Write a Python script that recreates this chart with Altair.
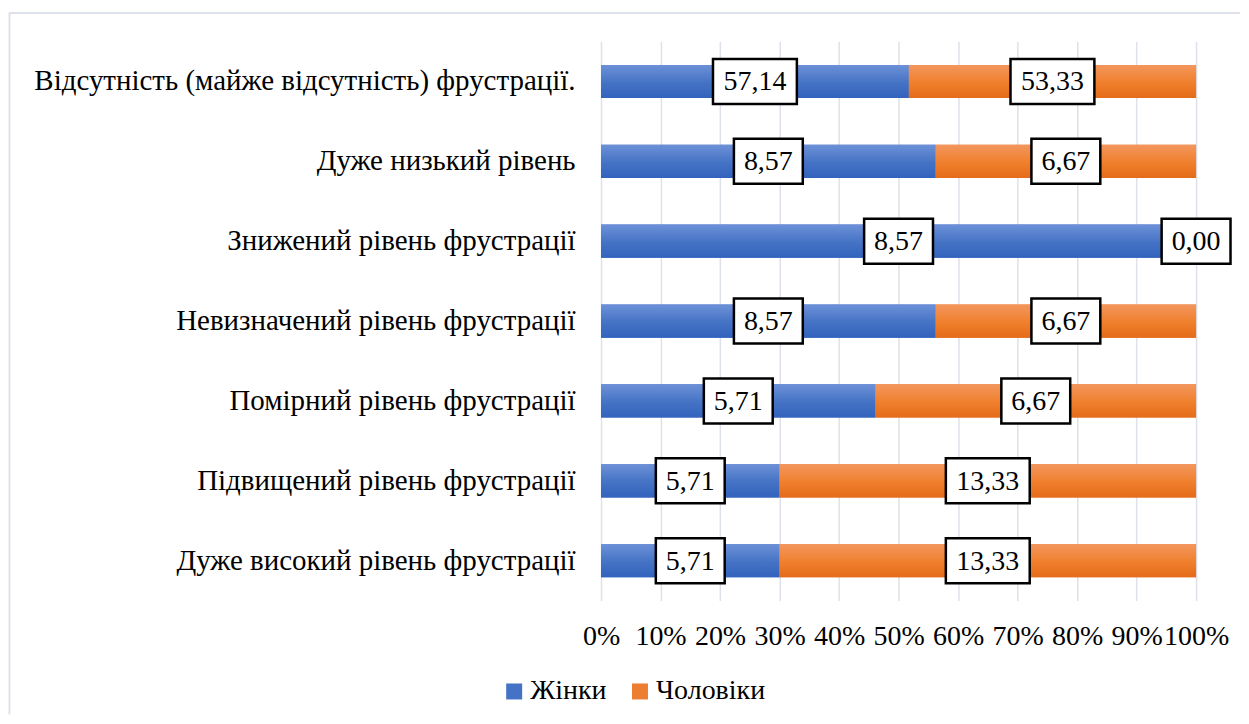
import altair as alt
import pandas as pd

categories = [
    "Відсутність (майже відсутність) фрустрації.",
    "Дуже низький рівень",
    "Знижений рівень фрустрації",
    "Невизначений рівень фрустрації",
    "Помірний рівень фрустрації",
    "Підвищений рівень фрустрації",
    "Дуже високий рівень фрустрації",
]
women = [57.14, 8.57, 8.57, 8.57, 5.71, 5.71, 5.71]
men = [53.33, 6.67, 0.00, 6.67, 6.67, 13.33, 13.33]
series = ["Жінки", "Чоловіки"]
colors = ["#4472C4", "#ED7D31"]
tick_values = [0, 0.1, 0.2, 0.3, 0.4, 0.5, 0.6, 0.7, 0.8, 0.9, 1.0]

rows = []
for c, w, m in zip(categories, women, men):
    rows.append({"cat": c, "series": series[0], "order": 0, "value": w})
    rows.append({"cat": c, "series": series[1], "order": 1, "value": m})
df = pd.DataFrame(rows)

FONT = "Liberation Serif"
FS = 28

x_scale = alt.Scale(domain=[0, 1], nice=False)
y_scale = alt.Scale(paddingInner=0.585, paddingOuter=0.2925)

base = (
    alt.Chart(df)
    .transform_stack(
        stack="value",
        groupby=["cat"],
        as_=["x0", "x1"],
        offset="normalize",
        sort=[alt.SortField("order")],
    )
    .transform_calculate(
        mid="(datum.x0 + datum.x1) / 2",
        label="replace(format(datum.value, '.2f'), '.', ',')",
    )
    .transform_calculate(nch="length(datum.label)")
)

y_enc = alt.Y(
    "cat:N",
    sort=categories,
    title=None,
    scale=y_scale,
    axis=alt.Axis(
        domain=False,
        ticks=False,
        grid=False,
        labelFont=FONT,
        labelFontSize=29,
        labelColor="black",
        labelPadding=26,
        labelLimit=800,
        minExtent=593,
        maxExtent=593,
    ),
)
y_plain = alt.Y("cat:N", sort=categories, scale=y_scale)

x_enc = alt.X(
    "x0:Q",
    scale=x_scale,
    title=None,
    axis=alt.Axis(
        values=tick_values,
        format="%",
        grid=True,
        gridColor="#dde2ea",
        gridWidth=1.5,
        domain=False,
        ticks=False,
        labelFont=FONT,
        labelFontSize=FS,
        labelColor="black",
        labelPadding=22,
        labelOverlap=False,
        labelFlush=False,
    ),
)

bars = base.mark_bar().encode(
    x=x_enc,
    x2="x1:Q",
    y=y_enc,
    color=alt.Color(
        "series:N",
        scale=alt.Scale(domain=series, range=colors),
        title=None,
        legend=alt.Legend(
            orient="none",
            legendX=-101,
            legendY=637,
            direction="horizontal",
            symbolType="square",
            symbolSize=256,
            symbolStrokeWidth=0,
            labelFont=FONT,
            labelFontSize=FS,
            labelColor="black",
            labelOffset=2,
            columnPadding=19,
            padding=0,
        ),
    ),
)

grad_blue = alt.Gradient(
    gradient="linear",
    stops=[
        alt.GradientStop(color="#6d91d8", offset=0),
        alt.GradientStop(color="#4472C4", offset=0.55),
        alt.GradientStop(color="#3263bd", offset=1),
    ],
    x1=0, x2=0, y1=0, y2=1,
)
grad_orange = alt.Gradient(
    gradient="linear",
    stops=[
        alt.GradientStop(color="#f3965e", offset=0),
        alt.GradientStop(color="#f07f2c", offset=0.55),
        alt.GradientStop(color="#e46b1a", offset=1),
    ],
    x1=0, x2=0, y1=0, y2=1,
)

bars_w = base.transform_filter(alt.datum.series == series[0]).mark_bar(color=grad_blue).encode(
    x=alt.X("x0:Q", scale=x_scale), x2="x1:Q", y=y_plain
)
bars_m = base.transform_filter(alt.datum.series == series[1]).mark_bar(color=grad_orange).encode(
    x=alt.X("x0:Q", scale=x_scale), x2="x1:Q", y=y_plain
)

box4 = "M-1.533,-1H1.533V1H-1.533Z"
box5 = "M-1.867,-1H1.867V1H-1.867Z"
boxes = base.mark_point(
    filled=True, color="white", stroke="black", strokeWidth=2.5, opacity=1, size=2025
).encode(
    x=alt.X("mid:Q", scale=x_scale),
    y=y_plain,
    shape=alt.condition("datum.nch > 4", alt.value(box5), alt.value(box4)),
)

labels = base.mark_text(
    font=FONT, fontSize=FS, color="black", baseline="middle", align="center", dy=1
).encode(
    x=alt.X("mid:Q", scale=x_scale),
    y=y_plain,
    text="label:N",
)

frame_df = pd.DataFrame({"a": [0]})
frame_top = alt.Chart(frame_df).mark_rule(color="#dde2ea", strokeWidth=2).encode(
    x=alt.value(-593), x2=alt.value(640), y=alt.value(-28.5)
)
frame_left = alt.Chart(frame_df).mark_rule(color="#dde2ea", strokeWidth=2).encode(
    x=alt.value(-592.5), y=alt.value(-28.5), y2=alt.value(674)
)

chart = (
    alt.layer(frame_top, frame_left, bars, bars_w, bars_m, boxes, labels)
    .properties(
        width=596,
        height=560,
        padding={"left": 0, "top": 3, "right": 0, "bottom": 0},
        background="white",
    )
    .configure_view(stroke=None)
)

chart.save("out.html", embed_options={"renderer": "svg", "actions": False})
